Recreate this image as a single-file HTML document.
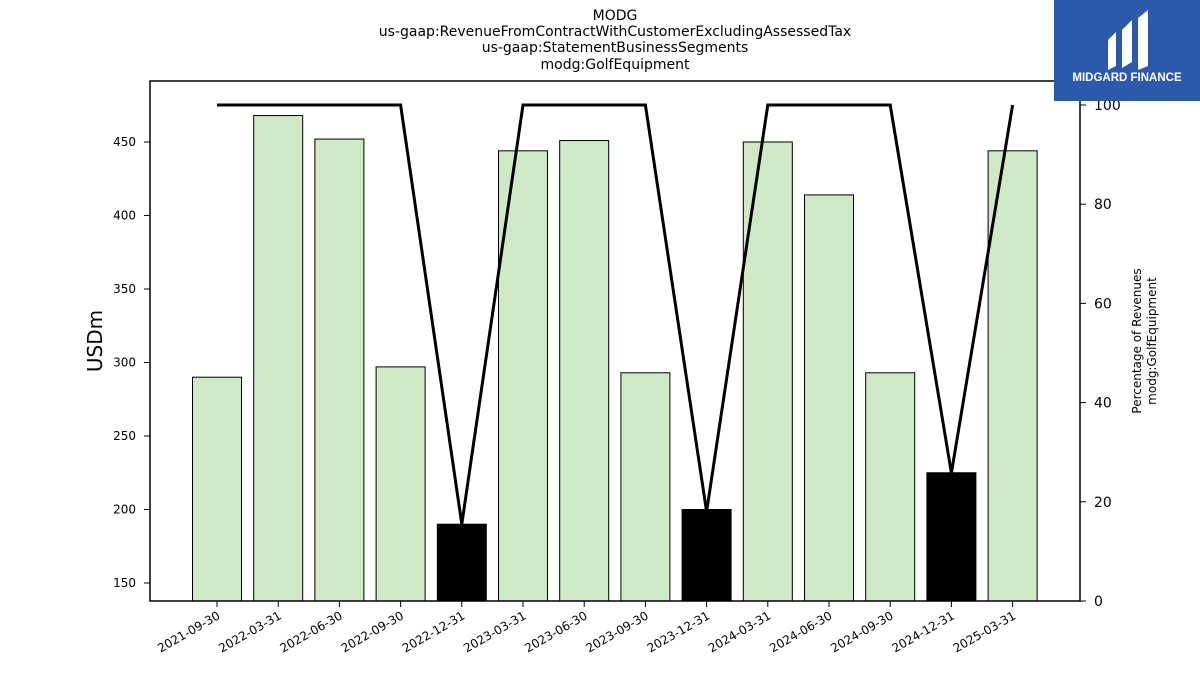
<!DOCTYPE html>
<html><head><meta charset="utf-8"><style>
body{margin:0;background:#fff;font-family:"Liberation Sans","DejaVu Sans",sans-serif}
</style></head><body>
<svg id="chart" width="1200" height="675" xmlns="http://www.w3.org/2000/svg" font-family="DejaVu Sans, Liberation Sans, sans-serif">
<g font-size="14" text-anchor="middle">
<text x="615" y="20">MODG</text>
<text x="615" y="36">us-gaap:RevenueFromContractWithCustomerExcludingAssessedTax</text>
<text x="615" y="52">us-gaap:StatementBusinessSegments</text>
<text x="615" y="69">modg:GolfEquipment</text>
</g>
<g id="bars"></g>
<g id="line"></g>
<rect x="150" y="81" width="930" height="520" fill="none" stroke="#000" stroke-width="1.5"/>
<g id="xticks"></g>
<g id="yticks"></g>
<g id="y2ticks"></g>
<text transform="translate(102,341) rotate(-90)" font-size="20" text-anchor="middle">USDm</text>
<g font-size="12" text-anchor="middle">
<text transform="translate(1141,341) rotate(-90)">Percentage of Revenues</text>
<text transform="translate(1156,341) rotate(-90)">modg:GolfEquipment</text>
</g>
<g>
<rect x="1054" y="0" width="146" height="101" fill="#2b5aad"/>
<path d="M1108 40 L1116 32 L1116 66 L1108 70 Z M1122 30 L1132 20 L1132 62 L1122 68 Z M1138 18 L1148 10 L1148 66 L1138 70 Z" fill="#fff"/>
<text x="1127" y="81" fill="#fff" font-size="11.5" font-weight="bold" text-anchor="middle" font-family="Liberation Sans, sans-serif">MIDGARD FINANCE</text>
</g>
</svg>
<script>
const categories=["2021-09-30","2022-03-31","2022-06-30","2022-09-30","2022-12-31","2023-03-31","2023-06-30","2023-09-30","2023-12-31","2024-03-31","2024-06-30","2024-09-30","2024-12-31","2025-03-31"];
const revenues=[290,468,452,297,190,444,451,293,200,450,414,293,225,444];
const percentages=[100,100,100,100,15.5,100,100,100,18,100,100,100,25.8,100];
const yTicks=[150,200,250,300,350,400,450];
const y2Ticks=[0,20,40,60,80,100];
const NS="http://www.w3.org/2000/svg";
const x=i=>217+i*61.2;
const y=v=>583-(v-150)*1.47;
const y2=v=>601-v*4.96;
function mk(tag,attrs,parent){const e=document.createElementNS(NS,tag);for(const k in attrs)e.setAttribute(k,attrs[k]);parent.appendChild(e);return e;}
const bars=document.getElementById('bars');
revenues.forEach((v,i)=>{
 const dark=percentages[i]<50;
 const r=mk('rect',{x:x(i)-24.5,y:y(v),width:49,height:601-y(v),fill:dark?'#000':'#cfe9c6',stroke:'#000','stroke-width':1},bars);
 
 
});
const pl=mk('polyline',{points:percentages.map((p,i)=>x(i)+','+y2(p)).join(' '),fill:'none',stroke:'#000','stroke-width':3},document.getElementById('line'));


const xt=document.getElementById('xticks');
categories.forEach((c,i)=>{
 mk('line',{x1:x(i),x2:x(i),y1:601,y2:607,stroke:'#000'},xt);
 const t=mk('text',{transform:`translate(${x(i)+4},${618}) rotate(-30)`,'text-anchor':'end','font-size':12},xt);
 t.textContent=c;
 
 
});
const yt=document.getElementById('yticks');
yTicks.forEach(v=>{
 mk('line',{x1:144,x2:150,y1:y(v),y2:y(v),stroke:'#000'},yt);
 const t=mk('text',{x:136,y:y(v)+4,'text-anchor':'end','font-size':12},yt);
 t.textContent=v;
 
 
});
const y2t=document.getElementById('y2ticks');
y2Ticks.forEach(v=>{
 mk('line',{x1:1080,x2:1086,y1:y2(v),y2:y2(v),stroke:'#000'},y2t);
 const t=mk('text',{x:1094,y:y2(v)+5,'font-size':14},y2t);
 t.textContent=v;
 
 
});
</script>
</body></html>
